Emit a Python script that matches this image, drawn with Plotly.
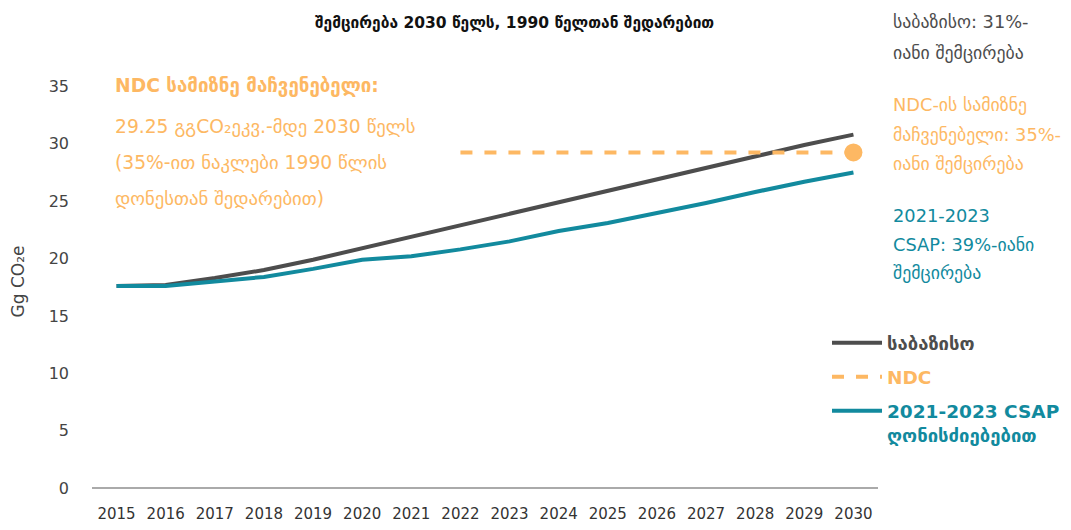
import plotly.graph_objects as go

years = list(range(2015, 2031))
baseline = [17.6, 17.7, 18.3, 19.0, 19.9, 20.9, 21.9, 22.9, 23.9, 24.9, 25.9, 26.9, 27.9, 28.9, 29.9, 30.8]
csap = [17.6, 17.6, 18.0, 18.4, 19.1, 19.9, 20.2, 20.8, 21.5, 22.4, 23.1, 23.95, 24.85, 25.8, 26.7, 27.5]
ndc_years = list(range(2022, 2031))
ndc_values = [29.25] * len(ndc_years)

GRAY = "#4d4d4d"
ORANGE = "#fdb863"
TEAL = "#128a9e"
FONT = "DejaVu Sans, sans-serif"

fig = go.Figure()
fig.add_trace(go.Scatter(x=years, y=baseline, mode="lines", legendgroup="a",
                         line=dict(color=GRAY, width=4),
                         name=f"<b><span style='color:{GRAY}'>საბაზისო</span></b>"))
fig.add_trace(go.Scatter(x=ndc_years, y=ndc_values, mode="lines", legendgroup="b",
                         line=dict(color=ORANGE, width=4, dash="dash"),
                         name=f"<b><span style='color:{ORANGE}'>NDC</span></b>"))
fig.add_trace(go.Scatter(x=[ndc_years[-1]], y=[ndc_values[-1]], mode="markers", legendgroup="b",
                         marker=dict(color=ORANGE, size=18), showlegend=False))
fig.add_trace(go.Scatter(x=years, y=csap, mode="lines", legendgroup="c",
                         line=dict(color=TEAL, width=4),
                         name=f"<b><span style='color:{TEAL}'>2021-2023 CSAP<br>ღონისძიებებით</span></b>"))

OFF = 8  # page offset of the figure
W, H = 1071, 530
PL, PR, PT, PB = 92 - OFF, 878 - OFF, 74.5 - OFF, 488 - OFF
PW, PH = PR - PL, PB - PT

def px(x):
    return (x - OFF - PL) / PW

def py(y):
    return (PB - (y - OFF)) / PH

annotations = []
annotations.append(dict(text="<b>შემცირება 2030 წელს, 1990 წელთან შედარებით</b>",
                        xref="paper", yref="paper", x=px(514), y=py(22),
                        xanchor="center", yanchor="middle", showarrow=False,
                        font=dict(size=15.5, color="#111111", family=FONT)))
left_lines = [("<b>NDC სამიზნე მაჩვენებელი:</b>", 86),
              ("29.25 გგCO₂ეკვ.-მდე 2030 წელს", 126),
              ("(35%-ით ნაკლები 1990 წლის", 162),
              ("დონესთან შედარებით)", 198)]
for t, ypx in left_lines:
    annotations.append(dict(text=t, xref="paper", yref="paper",
                            x=px(113), y=py(ypx),
                            xanchor="left", yanchor="middle", showarrow=False,
                            font=dict(size=18.7, color=ORANGE, family=FONT)))
right_lines = [("საბაზისო: 31%-", 21, GRAY), ("იანი შემცირება", 52, GRAY),
               ("NDC-ის სამიზნე", 104, ORANGE), ("მაჩვენებელი: 35%-", 134, ORANGE),
               ("იანი შემცირება", 163, ORANGE),
               ("2021-2023", 215, TEAL), ("CSAP: 39%-იანი", 244, TEAL), ("შემცირება", 272, TEAL)]
for t, ypx, c in right_lines:
    annotations.append(dict(text=t, xref="paper", yref="paper",
                            x=px(891), y=py(ypx),
                            xanchor="left", yanchor="middle", showarrow=False,
                            font=dict(size=17.8, color=c, family=FONT)))

fig.update_layout(
    width=W, height=H,
    margin=dict(l=PL, r=W - PR, t=PT, b=H - PB, autoexpand=False),
    paper_bgcolor="white", plot_bgcolor="white",
    font=dict(family=FONT, size=16, color="#444444"),
    showlegend=True,
    legend=dict(xref="paper", yref="paper", x=px(827), y=py(324),
                xanchor="left", yanchor="top", bgcolor="rgba(0,0,0,0)",
                font=dict(size=18.5, family=FONT), itemwidth=50, tracegroupgap=7,
                traceorder="grouped", valign="top"),
    annotations=annotations,
    xaxis=dict(range=[2014.5, 2030.5], tickmode="array", tickvals=years,
               showgrid=False, zeroline=False, showline=False,
               tickfont=dict(size=15, color="#333333", family=FONT),
               ticks="", ticklabelstandoff=15),
    yaxis=dict(range=[0, 36], tickvals=[0, 5, 10, 15, 20, 25, 30, 35],
               showgrid=False, zeroline=True, zerolinecolor="#aaaaaa", zerolinewidth=2,
               showline=False, ticks="", ticklabelstandoff=22,
               tickfont=dict(size=16, color="#444444"),
               title=dict(text="Gg CO₂e", standoff=20, font=dict(size=17, color="#444444"))),
)

fig.write_html("out.html")
